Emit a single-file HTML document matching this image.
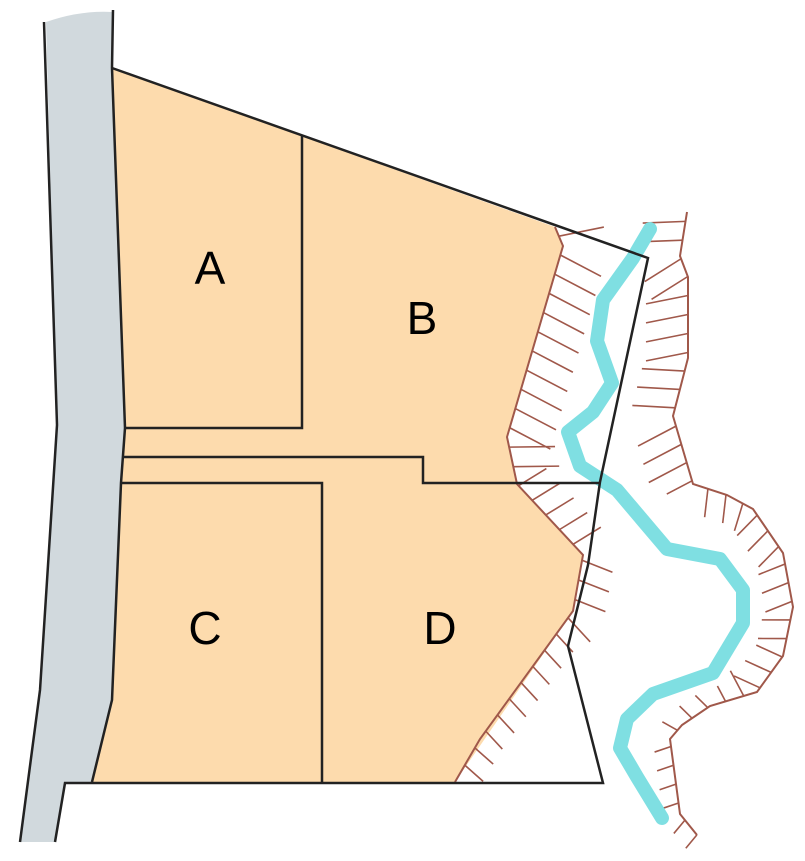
<!DOCTYPE html>
<html><head><meta charset="utf-8"><style>
html,body{margin:0;padding:0;background:#fff;}
svg{display:block;}
text{font-family:"Liberation Sans",sans-serif;font-size:46px;fill:#000;}
</style></head><body>
<svg id="s" width="805" height="861" viewBox="0 0 805 861" xmlns="http://www.w3.org/2000/svg">
<rect width="805" height="861" fill="#fff"/>
<path d="M46,22 Q80,10 113,12 L112,68 L125,428 L121,483 L112,700 L92,782 L65,782 L55,842 L20,842 L40,690 L57,425 Z" fill="#D1D9DD"/>
<path d="M112,68 L555,227 L563,246 L507,437 L517,484 L583,555 L573,611 L455,782 L92,782 L112,700 L121,483 L125,428 Z" fill="#FDDBAD"/>
<g id="hatch" stroke="#A0584A" stroke-width="1.6" fill="none"></g>
<polyline points="555,227 563,246 507,437 517,484 583,555 573,611 480,739 455,782" fill="none" stroke="#A0584A" stroke-width="2"/>
<polyline points="687,212 680,256 688,277 688,358 673,416 693,484 727,495 753,509 783,553 793,607 783,656 757,692 710,706 682,725 670,739 680,814 697,835" fill="none" stroke="#A0584A" stroke-width="2"/>
<polyline points="650,229 633,258 603,300 597,341 612,383 593,412 568,432 580,466 617,490 667,549 720,559 743,590 743,623 713,673 653,694 627,719 620,748 637,777 662,818" fill="none" stroke="#7FDFE2" stroke-width="14" stroke-linecap="round" stroke-linejoin="round"/>
<g stroke="#222" stroke-width="2.5" fill="none" stroke-linejoin="miter">
<polyline points="44,22 57,425 40,690 20,842"/>
<polyline points="113,10 112,68 125,428 121,483 112,700 92,782"/>
<polyline points="112,68 648,258 600,482 588,565 568,646 603,783 65,783 55,842"/>
<polyline points="302,135 302,428 125,428"/>
<polyline points="122,457 423,457 423,483 600,483"/>
<polyline points="121,483 322,483 322,783"/>
</g>
<text x="210" y="284" text-anchor="middle">A</text>
<text x="422" y="334" text-anchor="middle">B</text>
<text x="205" y="644" text-anchor="middle">C</text>
<text x="440" y="644" text-anchor="middle">D</text>
</svg>
<script>
(function(){
var g=document.getElementById('hatch');
function tick(pts,side,step,lenf){
  var acc=step/2;
  for(var i=0;i<pts.length-1;i++){
    var a=pts[i],b=pts[i+1],dx=b[0]-a[0],dy=b[1]-a[1],L=Math.hypot(dx,dy);
    var ux=dx/L,uy=dy/L,nx=side*uy,ny=-side*ux;
    var t=acc;
    while(t<L){
      var x=a[0]+ux*t,y=a[1]+uy*t,len=lenf(y,x);
      var l=document.createElementNS('http://www.w3.org/2000/svg','line');
      l.setAttribute('x1',x);l.setAttribute('y1',y);
      l.setAttribute('x2',x+nx*len+ux*len*0.2);l.setAttribute('y2',y+ny*len+uy*len*0.2);
      g.appendChild(l);t+=step;
    }
    acc=t-L;
  }
}
tick([[555,227],[563,246],[507,437],[517,484],[583,555],[573,611],[480,739],[455,782]],1,20,
  function(y){return y<480?45:(y<620?32:24);});
tick([[687,212],[680,256],[688,277],[688,358],[673,416],[693,484],[727,495],[753,509],[783,553],[793,607],[783,656],[757,692],[710,706],[682,725],[670,739],[680,814],[697,835]],-1,19,
  function(y){return y<480?42:(y<700?28:17);});
})();
</script>
</body></html>
